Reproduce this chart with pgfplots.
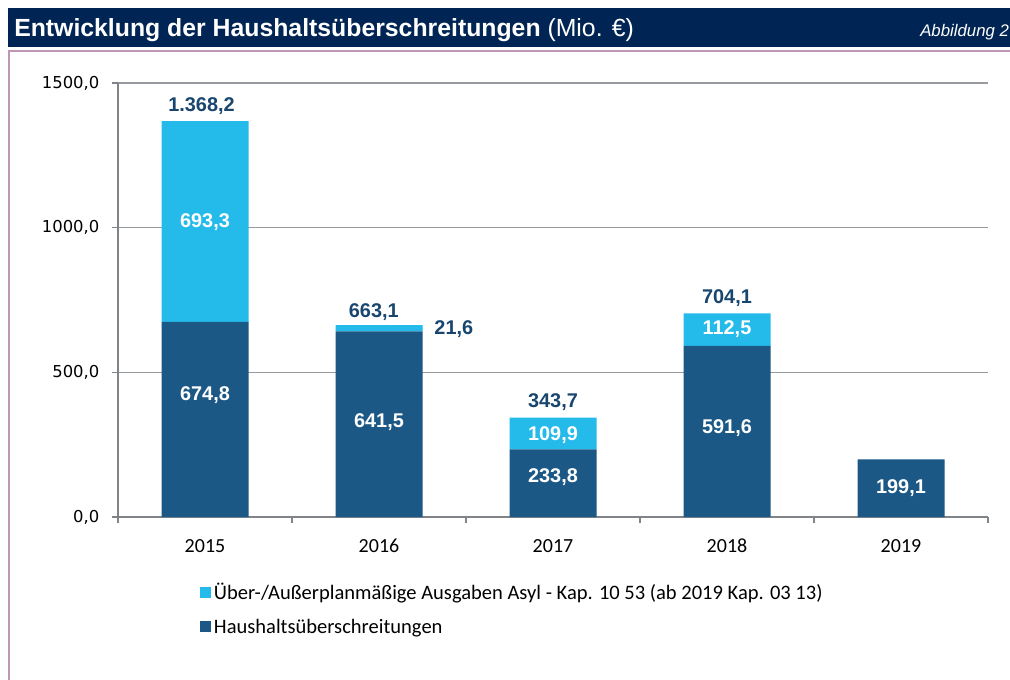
\documentclass[border=0pt]{standalone}
\usepackage{pgfplots}
\pgfplotsset{compat=1.18}
\usepackage{fontspec}
\setmainfont{Liberation Sans}
\newfontfamily\carlito{Carlito}
\newfontfamily\dejavu{DejaVu Sans}
\definecolor{hdr}{RGB}{0,37,84}
\definecolor{lightbar}{RGB}{36,187,235}
\definecolor{darkbar}{RGB}{27,88,134}
\definecolor{navy}{RGB}{24,70,111}
\definecolor{framec}{RGB}{190,150,182}
\definecolor{axisgray}{RGB}{128,132,136}
\definecolor{gridgray}{RGB}{150,154,158}
\begin{document}
\begin{tikzpicture}[x=0.75pt,y=0.75pt]
\useasboundingbox (0,0) rectangle (1010,679);
\clip (0,0) rectangle (1010,679);
\fill[white] (0,0) rectangle (1010,679);
\fill[hdr] (8,632) rectangle (1015,671);
\node[anchor=base west, inner sep=0pt, text=white, font=\fontsize{18.6}{22}\selectfont\bfseries] at (14,642.5) {Entwicklung der Haushalts\"uberschreitungen {\mdseries (Mio. €)}};
\node[anchor=base west, inner sep=0pt, text=white, font=\fontsize{12.6}{15}\selectfont\itshape] at (920,642) {Abbildung 2};
\draw[framec, line width=1.1pt] (1015,628) -- (9,628) -- (9,-5);

\begin{axis}[
  at={(88.5pt,121.5pt)}, anchor=south west,
  scale only axis, width=652.5pt, height=325.5pt,
  ybar stacked, bar width=65.25pt,
  xmin=-0.5, xmax=4.5, ymin=0, ymax=1500,
  axis lines=left, axis line style={-, draw=axisgray, line width=1.6pt},
  ytick={0,500,1000,1500},
  ymajorgrids, grid style={gridgray, line width=1.1pt},
  tick align=outside, major tick length=4.5pt,
  tick style={draw=axisgray, line width=1.1pt},
  xtick={-0.5,0.5,1.5,2.5,3.5,4.5}, xticklabels={},
  extra x ticks={0,1,2,3,4},
  extra x tick labels={2015,2016,2017,2018,2019},
  extra x tick style={tick style={draw=none}},
  xticklabel style={font=\carlito\fontsize{15}{18}\selectfont, text=black,
    anchor=north, text height=9.5pt, text depth=0pt, yshift=-9pt},
  yticklabel style={font=\dejavu\fontsize{12.3}{14}\selectfont, text=black, xshift=-6pt,
    /pgf/number format/fixed, /pgf/number format/fixed zerofill,
    /pgf/number format/precision=1, /pgf/number format/use comma,
    /pgf/number format/1000 sep={}, /pgf/number format/assume math mode=true},
  scaled y ticks=false,
  legend style={at={(0.0943,-0.1452)}, anchor=north west, draw=none, fill=none,
    font=\carlito\fontsize{15.4}{18}\selectfont, row sep=9pt, inner sep=0pt,
    nodes={inner sep=2pt}},
  legend cell align=left,
  reverse legend,
  legend image code/.code={\fill[#1] (0pt,-4.1pt) rectangle (8.25pt,4.1pt);},
  /tikz/every even column/.append style={column sep=1.5pt},
]
\addplot[fill=darkbar, draw=none] coordinates {(0,674.8) (1,641.5) (2,233.8) (3,591.6) (4,199.1)};
\addplot[fill=lightbar, draw=none] coordinates {(0,693.3) (1,21.6) (2,109.9) (3,112.5) (4,0)};
\legend{Haushalts\"uberschreitungen, {\"Uber-/Au\ss erplanm\"a\ss ige Ausgaben Asyl - Kap. 10 53 (ab 2019 Kap. 03 13)}}
\end{axis}

\begin{axis}[
  at={(88.5pt,121.5pt)}, anchor=south west,
  scale only axis, width=652.5pt, height=325.5pt,
  xmin=-0.5, xmax=4.5, ymin=0, ymax=1500,
  hide axis, clip=false,
]
\addplot[draw=none, nodes near coords, point meta=explicit symbolic,
  every node near coord/.append style={anchor=center, inner sep=0pt, text=navy,
    font=\fontsize{14.9}{17}\selectfont\bfseries}]
  table[meta=label] {
x y label
-0.02 1420 1.368,2
0.97 707 663,1
1.43 650 21,6
2.0 396 343,7
3.0 757 704,1
};
\addplot[draw=none, nodes near coords, point meta=explicit symbolic,
  every node near coord/.append style={anchor=center, inner sep=0pt, text=white,
    font=\fontsize{14.9}{17}\selectfont\bfseries}]
  table[meta=label] {
x y label
0 1019.6 693,3
0 421.7 674,8
1 328 641,5
2 283 109,9
2 138 233,8
3 650 112,5
3 307.6 591,6
4 100 199,1
};
\end{axis}
\end{tikzpicture}
\end{document}
